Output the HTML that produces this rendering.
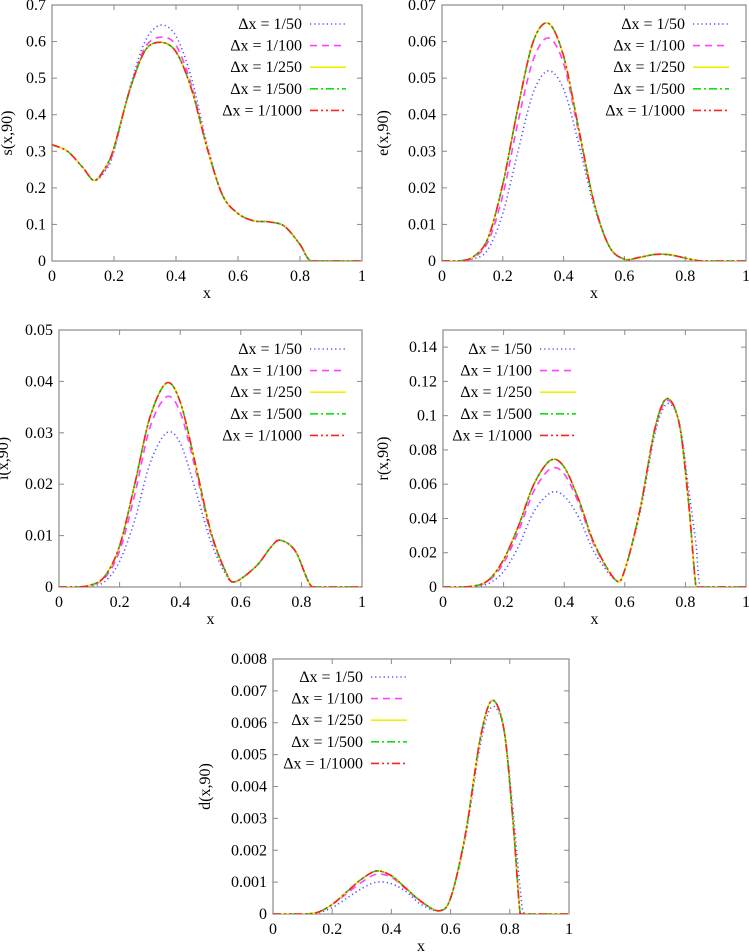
<!DOCTYPE html>
<html><head><meta charset="utf-8"><style>
html,body{margin:0;padding:0;background:#fff;}
svg{display:block;font-family:"Liberation Serif",serif;}
</style></head><body>
<svg id="fig" width="749" height="952" viewBox="0 0 749 952" xmlns="http://www.w3.org/2000/svg"></svg>
<script>
// ---- data ----
const legendLabels = ["Δx = 1/50","Δx = 1/100","Δx = 1/250","Δx = 1/500","Δx = 1/1000"];
const xTicks = [0,0.2,0.4,0.6,0.8,1];
const xTickLabels = ["0","0.2","0.4","0.6","0.8","1"];

const sX = [0,0.05,0.1,0.137,0.175,0.2,0.25,0.3,0.35,0.4,0.45,0.5,0.55,0.6,0.65,0.7,0.75,0.8,0.835,0.9,1];
const s50 = [0.318,0.30,0.255,0.22,0.25,0.30,0.47,0.60,0.645,0.615,0.50,0.32,0.18,0.13,0.11,0.107,0.095,0.045,0,0,0];
const s100 = [0.318,0.30,0.255,0.22,0.255,0.305,0.467,0.583,0.612,0.59,0.48,0.313,0.18,0.13,0.11,0.107,0.095,0.045,0,0,0];
const sConv = [0.318,0.30,0.255,0.22,0.26,0.31,0.465,0.575,0.598,0.572,0.47,0.31,0.18,0.13,0.11,0.107,0.095,0.045,0,0,0];
const sTicks = [0,0.1,0.2,0.3,0.4,0.5,0.6,0.7];

const eX = [0,0.05,0.1,0.15,0.2,0.25,0.3,0.35,0.4,0.45,0.5,0.55,0.6,0.65,0.7,0.75,0.8,0.85,0.9,1];
const e50 = [0,0,0.0005,0.003,0.013,0.030,0.046,0.052,0.047,0.032,0.015,0.004,0.0005,0.001,0.0018,0.0017,0.0008,0,0,0];
const e100 = [0,0,0.0008,0.005,0.018,0.038,0.055,0.061,0.054,0.035,0.016,0.004,0.0005,0.001,0.0018,0.0017,0.0008,0,0,0];
const eConv = [0,0,0.001,0.006,0.021,0.042,0.060,0.065,0.056,0.036,0.016,0.004,0.0005,0.001,0.0018,0.0017,0.0008,0,0,0];
const eTicks = [0,0.01,0.02,0.03,0.04,0.05,0.06,0.07];

const iX = [0,0.05,0.1,0.15,0.2,0.25,0.3,0.355,0.4,0.45,0.5,0.55,0.58,0.65,0.7,0.73,0.78,0.835,0.9,1];
const i50 = [0,0,0.0002,0.001,0.005,0.013,0.024,0.030,0.028,0.019,0.009,0.0025,0.001,0.004,0.0078,0.0091,0.007,0,0,0];
const i100 = [0,0,0.0003,0.0017,0.007,0.018,0.031,0.037,0.034,0.023,0.0105,0.003,0.001,0.004,0.0078,0.0091,0.007,0,0,0];
const iConv = [0,0,0.0003,0.002,0.008,0.020,0.033,0.0397,0.036,0.024,0.011,0.003,0.001,0.004,0.0078,0.0091,0.007,0,0,0];
const iTicks = [0,0.01,0.02,0.03,0.04,0.05];

const rX = [0,0.05,0.1,0.15,0.2,0.25,0.3,0.355,0.4,0.45,0.5,0.57,0.6,0.65,0.7,0.74,0.78,0.81,0.835,0.85,0.9,1];
const r50 = [0,0,0.0003,0.002,0.009,0.024,0.044,0.055,0.053,0.040,0.020,0.004,0.010,0.043,0.090,0.107,0.096,0.058,0.025,0,0,0];
const r100 = [0,0,0.0004,0.0035,0.014,0.033,0.056,0.069,0.066,0.048,0.024,0.004,0.010,0.045,0.092,0.109,0.095,0.052,0,0,0,0];
const rConv = [0,0,0.0005,0.004,0.016,0.036,0.060,0.074,0.070,0.050,0.025,0.004,0.010,0.045,0.093,0.110,0.095,0.050,0,0,0,0];
const rTicks = [0,0.02,0.04,0.06,0.08,0.1,0.12,0.14];

const dX = [0,0.1,0.15,0.2,0.25,0.3,0.35,0.4,0.45,0.5,0.56,0.6,0.65,0.7,0.74,0.78,0.81,0.835,0.85,0.9,1];
const d50 = [0,0,0.00003,0.0002,0.0005,0.0008,0.001,0.00095,0.0007,0.0003,0.0001,0.0005,0.0024,0.0053,0.0065,0.0058,0.0033,0.0008,0,0,0];
const d100 = [0,0,0.00005,0.0003,0.00065,0.001,0.00125,0.00115,0.00078,0.00038,0.0001,0.0005,0.0025,0.0055,0.0067,0.0058,0.003,0,0,0,0];
const dConv = [0,0,0.00005,0.0003,0.0007,0.0011,0.00135,0.0012,0.0008,0.0004,0.0001,0.0005,0.0025,0.0055,0.0067,0.0058,0.003,0,0,0,0];
const dTicks = [0,0.001,0.002,0.003,0.004,0.005,0.006,0.007,0.008];

// ---- drawing ----
const NS = "http://www.w3.org/2000/svg";
const svg = document.getElementById("fig");
function mk(tag, attrs, parent){
  const el = document.createElementNS(NS, tag);
  for (const k in attrs) el.setAttribute(k, attrs[k]);
  (parent||svg).appendChild(el);
  return el;
}
const styles = [
  {stroke:"#5050ff", dash:"1.2,3"},
  {stroke:"#ff40ff", dash:"7,5"},
  {stroke:"#f0f000", dash:""},
  {stroke:"#10e010", dash:"8,3,2,3"},
  {stroke:"#ff2020", dash:"8,3,2,3,2,3"}
];
const seriesNames = ["series-dx-1-50","series-dx-1-100","series-dx-1-250","series-dx-1-500","series-dx-1-1000"];

function smoothPath(pts){
  let d = "M" + pts[0][0].toFixed(2) + "," + pts[0][1].toFixed(2);
  for (let i=0;i<pts.length-1;i++){
    const p0 = pts[Math.max(0,i-1)], p1 = pts[i], p2 = pts[i+1], p3 = pts[Math.min(pts.length-1,i+2)];
    const t = 0.16;
    let c1 = [p1[0]+(p2[0]-p0[0])*t, p1[1]+(p2[1]-p0[1])*t];
    let c2 = [p2[0]-(p3[0]-p1[0])*t, p2[1]-(p3[1]-p1[1])*t];
    const bottom = pts.bottom;
    c1[1] = Math.min(c1[1], bottom); c2[1] = Math.min(c2[1], bottom);
    d += " C" + c1[0].toFixed(2)+","+c1[1].toFixed(2)+" "+c2[0].toFixed(2)+","+c2[1].toFixed(2)+" "+p2[0].toFixed(2)+","+p2[1].toFixed(2);
  }
  return d;
}

function panel(cfg){
  const g = mk("g", {});
  
  
  const {x0,x1,y0,y1,ymax} = cfg;
  const sx = v => x0 + v*(x1-x0);
  const sy = v => y0 - v/ymax*(y0-y1);
  const frame = mk("rect", {x:x0, y:y1, width:x1-x0, height:y0-y1, fill:"none", stroke:"#8a8a8a", "stroke-width":1.2}, g);
  
  
  xTicks.forEach((v,k)=>{
    const X = sx(v);
    mk("line",{x1:X,y1:y0,x2:X,y2:y0-5,stroke:"#8a8a8a","stroke-width":1},g);
    mk("line",{x1:X,y1:y1,x2:X,y2:y1+5,stroke:"#8a8a8a","stroke-width":1},g);
    const t = mk("text",{x:X,y:y0+20,"text-anchor":"middle","font-size":16,fill:"#000"},g);
    t.textContent = xTickLabels[k];
    
    
  });
  cfg.ticks.forEach(v=>{
    const Y = sy(v);
    mk("line",{x1:x0,y1:Y,x2:x0+5,y2:Y,stroke:"#8a8a8a","stroke-width":1},g);
    mk("line",{x1:x1,y1:Y,x2:x1-5,y2:Y,stroke:"#8a8a8a","stroke-width":1},g);
    const t = mk("text",{x:x0-6,y:Y+5,"text-anchor":"end","font-size":16,fill:"#000"},g);
    t.textContent = String(v);
    
    
  });
  const xl = mk("text",{x:(x0+x1)/2,y:y0+37,"text-anchor":"middle","font-size":16},g);
  xl.textContent = "x";
  
  
  const yl = mk("text",{x:0,y:0,"text-anchor":"middle","font-size":16,transform:"translate("+cfg.ylx+","+((y0+y1)/2)+") rotate(-90)"},g);
  yl.textContent = cfg.ylabel;
  
  
  const cp = mk("clipPath",{id:"clip-"+cfg.name},g);
  mk("rect",{x:x0,y:y1,width:x1-x0,height:y0-y1},cp);
  const data = [cfg.a, cfg.b, cfg.c, cfg.c, cfg.c];
  data.forEach((ys,si)=>{
    const pts = cfg.xs.map((xv,j)=>[sx(xv), sy(ys[j])]);
    pts.bottom = y0;
    const p = mk("path",{d:smoothPath(pts),fill:"none",stroke:styles[si].stroke,"stroke-width":1.6,"stroke-dasharray":styles[si].dash,"clip-path":"url(#clip-"+cfg.name+")"},g);
    
    
  });
  legendLabels.forEach((lab,k)=>{
    const Y = cfg.ly + k*21.6;
    const t = mk("text",{x:cfg.lx,y:Y+5,"text-anchor":"end","font-size":16},g);
    t.textContent = lab;
    
    
    const l = mk("line",{x1:cfg.lx+8,y1:Y,x2:cfg.lx+44,y2:Y,stroke:styles[k].stroke,"stroke-width":1.6,"stroke-dasharray":styles[k].dash},g);
    
    
  });
}

panel({name:"panel-s",x0:52,x1:362,y0:261,y1:5,ymax:0.7,ticks:sTicks,xs:sX,a:s50,b:s100,c:sConv,ylabel:"s(x,90)",ylx:12,lx:302,ly:24});
panel({name:"panel-e",x0:442,x1:746,y0:261,y1:5,ymax:0.07,ticks:eTicks,xs:eX,a:e50,b:e100,c:eConv,ylabel:"e(x,90)",ylx:388,lx:685,ly:24});
panel({name:"panel-i",x0:59,x1:362,y0:587,y1:330,ymax:0.05,ticks:iTicks,xs:iX,a:i50,b:i100,c:iConv,ylabel:"i(x,90)",ylx:8,lx:302,ly:349});
panel({name:"panel-r",x0:443,x1:746,y0:587,y1:330,ymax:0.15,ticks:rTicks,xs:rX,a:r50,b:r100,c:rConv,ylabel:"r(x,90)",ylx:388,lx:532,ly:349});
panel({name:"panel-d",x0:273,x1:569,y0:914,y1:659,ymax:0.008,ticks:dTicks,xs:dX,a:d50,b:d100,c:dConv,ylabel:"d(x,90)",ylx:210,lx:363,ly:677});
</script>
</body></html>
